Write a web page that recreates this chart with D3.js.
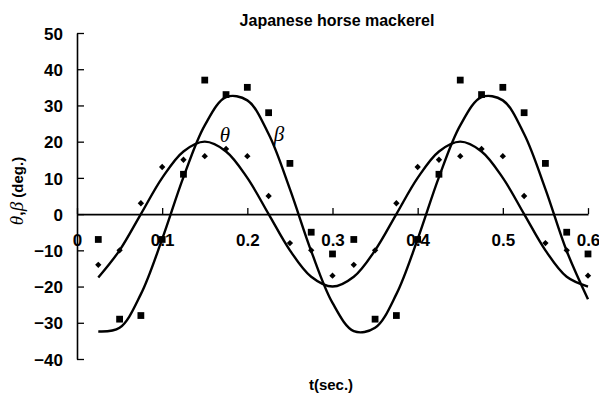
<!DOCTYPE html>
<html>
<head>
<meta charset="utf-8">
<script src="https://cdn.jsdelivr.net/npm/d3@7"></script>
<style>
  html, body { margin: 0; padding: 0; background: #fff; }
  svg { display: block; }
  text { font-family: "Liberation Sans", Arial, sans-serif; fill: #000; }
</style>
</head>
<body>
<svg id="chart" width="599" height="394"></svg>
<script>
// ---- data ----
const tValues = [0.025, 0.05, 0.075, 0.1, 0.125, 0.15, 0.175, 0.2, 0.225, 0.25, 0.275, 0.3,
                 0.325, 0.35, 0.375, 0.4, 0.425, 0.45, 0.475, 0.5, 0.525, 0.55, 0.575, 0.6];
const thetaMeasured = [-14, -10, 3, 13, 15, 16, 18, 16, 5, -8, -10, -17,
                       -14, -10, 3, 13, 15, 16, 18, 16, 5, -8, -10, -17];
const betaMeasured = [-7, -29, -28, -7, 11, 37, 33, 35, 28, 14, -5, -11,
                      -7, -29, -28, -7, 11, 37, 33, 35, 28, 14, -5, -11];
const thetaFit = [-17.5, -10, 0, 10, 17.3, 20, 17.3, 10, 0, -10, -17.3, -20,
                  -17.3, -10, 0, 10, 17.3, 20, 17.3, 10, 0, -10, -17.3, -20];
const betaFit = [-32.4, -31.4, -22.1, -6.9, 10.2, 24.5, 32.3, 31.4, 22.1, 6.9, -10.2, -24.5,
                 -32.3, -31.4, -22.1, -6.9, 10.2, 24.5, 32.3, 31.4, 22.1, 6.9, -10.2, -23.5];
const xTicks = [0, 0.1, 0.2, 0.3, 0.4, 0.5, 0.6];
const yTicks = [50, 40, 30, 20, 10, 0, -10, -20, -30, -40];
const titleText = "Japanese horse mackerel";
const xTitle = "t(sec.)";

// ---- layout ----
const svg = d3.select("#chart");
const x = d3.scaleLinear().domain([0, 0.6]).range([77, 588]);
const y = d3.scaleLinear().domain([-40, 50]).range([359, 33]);

// y axis (ticks pointing inward)
const yAxis = d3.axisLeft(y).tickValues(yTicks).tickSize(-7).tickSizeOuter(0).tickPadding(14)
  .tickFormat(d3.format("d"));
const gy = svg.append("g").attr("transform", `translate(${x(0)},0)`).call(yAxis);
gy.select(".domain").attr("stroke", "#000").attr("stroke-width", 1.6);
gy.selectAll(".tick line").attr("stroke", "#000").attr("stroke-width", 1.3);
gy.selectAll(".tick text").style("font-size", "17px").style("font-weight", "bold")
  .attr("font-family", null).attr("dy", "0.36em");

// x axis at y = 0
const xAxis = d3.axisBottom(x).tickValues(xTicks).tickSize(-6).tickSizeOuter(0)
  .tickFormat(d => d === 0 ? "0" : d3.format(".1f")(d));
const gx = svg.append("g").attr("transform", `translate(0,${y(0)})`).call(xAxis);
gx.select(".domain").attr("stroke", "#000").attr("stroke-width", 1.6);
gx.selectAll(".tick line").attr("stroke", "#000").attr("stroke-width", 1.3);
gx.selectAll(".tick text").style("font-size", "17px").style("font-weight", "bold")
  .attr("y", 32).attr("dy", 0);

// fitted curves
const line = d3.line().x(d => x(d[0])).y(d => y(d[1])).curve(d3.curveCatmullRom);
[thetaFit, betaFit].forEach(series => {
  svg.append("path")
    .datum(tValues.map((t, i) => [t, series[i]]))
    .attr("d", line)
    .attr("fill", "none")
    .attr("stroke", "#000")
    .attr("stroke-width", 2.4);
});

// measured points
const square = d3.symbol().type(d3.symbolSquare).size(46);
svg.append("g").selectAll("path")
  .data(tValues.map((t, i) => [t, betaMeasured[i]]))
  .join("path")
  .attr("d", square)
  .attr("transform", d => `translate(${x(d[0])},${y(d[1])})`)
  .attr("fill", "#000");

const diamond = d3.symbol().type(d3.symbolSquare).size(20);
svg.append("g").selectAll("path")
  .data(tValues.map((t, i) => [t, thetaMeasured[i]]))
  .join("path")
  .attr("d", diamond)
  .attr("transform", d => `translate(${x(d[0])},${y(d[1])}) rotate(45)`)
  .attr("fill", "#000");

// curve labels
svg.append("text").attr("x", 225).attr("y", 142).attr("text-anchor", "middle")
  .style("font-family", "'Liberation Serif', 'DejaVu Serif', serif")
  .style("font-style", "italic").style("font-size", "21px").text("θ");
svg.append("text").attr("x", 279).attr("y", 141).attr("text-anchor", "middle")
  .style("font-family", "'Liberation Serif', 'DejaVu Serif', serif")
  .style("font-style", "italic").style("font-size", "21px").text("β");

// title
svg.append("text").attr("x", 337).attr("y", 26).attr("text-anchor", "middle")
  .style("font-size", "16px").style("font-weight", "bold").text(titleText);

// x axis title
svg.append("text").attr("x", 331).attr("y", 390).attr("text-anchor", "middle")
  .style("font-size", "15px").style("font-weight", "bold").text(xTitle);

// y axis title
const yt = svg.append("text").attr("transform", "translate(23,191) rotate(-90)")
  .attr("text-anchor", "middle");
yt.append("tspan")
  .style("font-family", "'Liberation Serif', 'DejaVu Serif', serif")
  .style("font-style", "italic").style("font-size", "19px").text("θ");
yt.append("tspan").style("font-size", "16px").style("font-weight", "bold").text(",");
yt.append("tspan")
  .style("font-family", "'Liberation Serif', 'DejaVu Serif', serif")
  .style("font-style", "italic").style("font-size", "19px").text("β");
yt.append("tspan").style("font-size", "15px").style("font-weight", "bold").text(" (deg.)");
</script>
</body>
</html>
